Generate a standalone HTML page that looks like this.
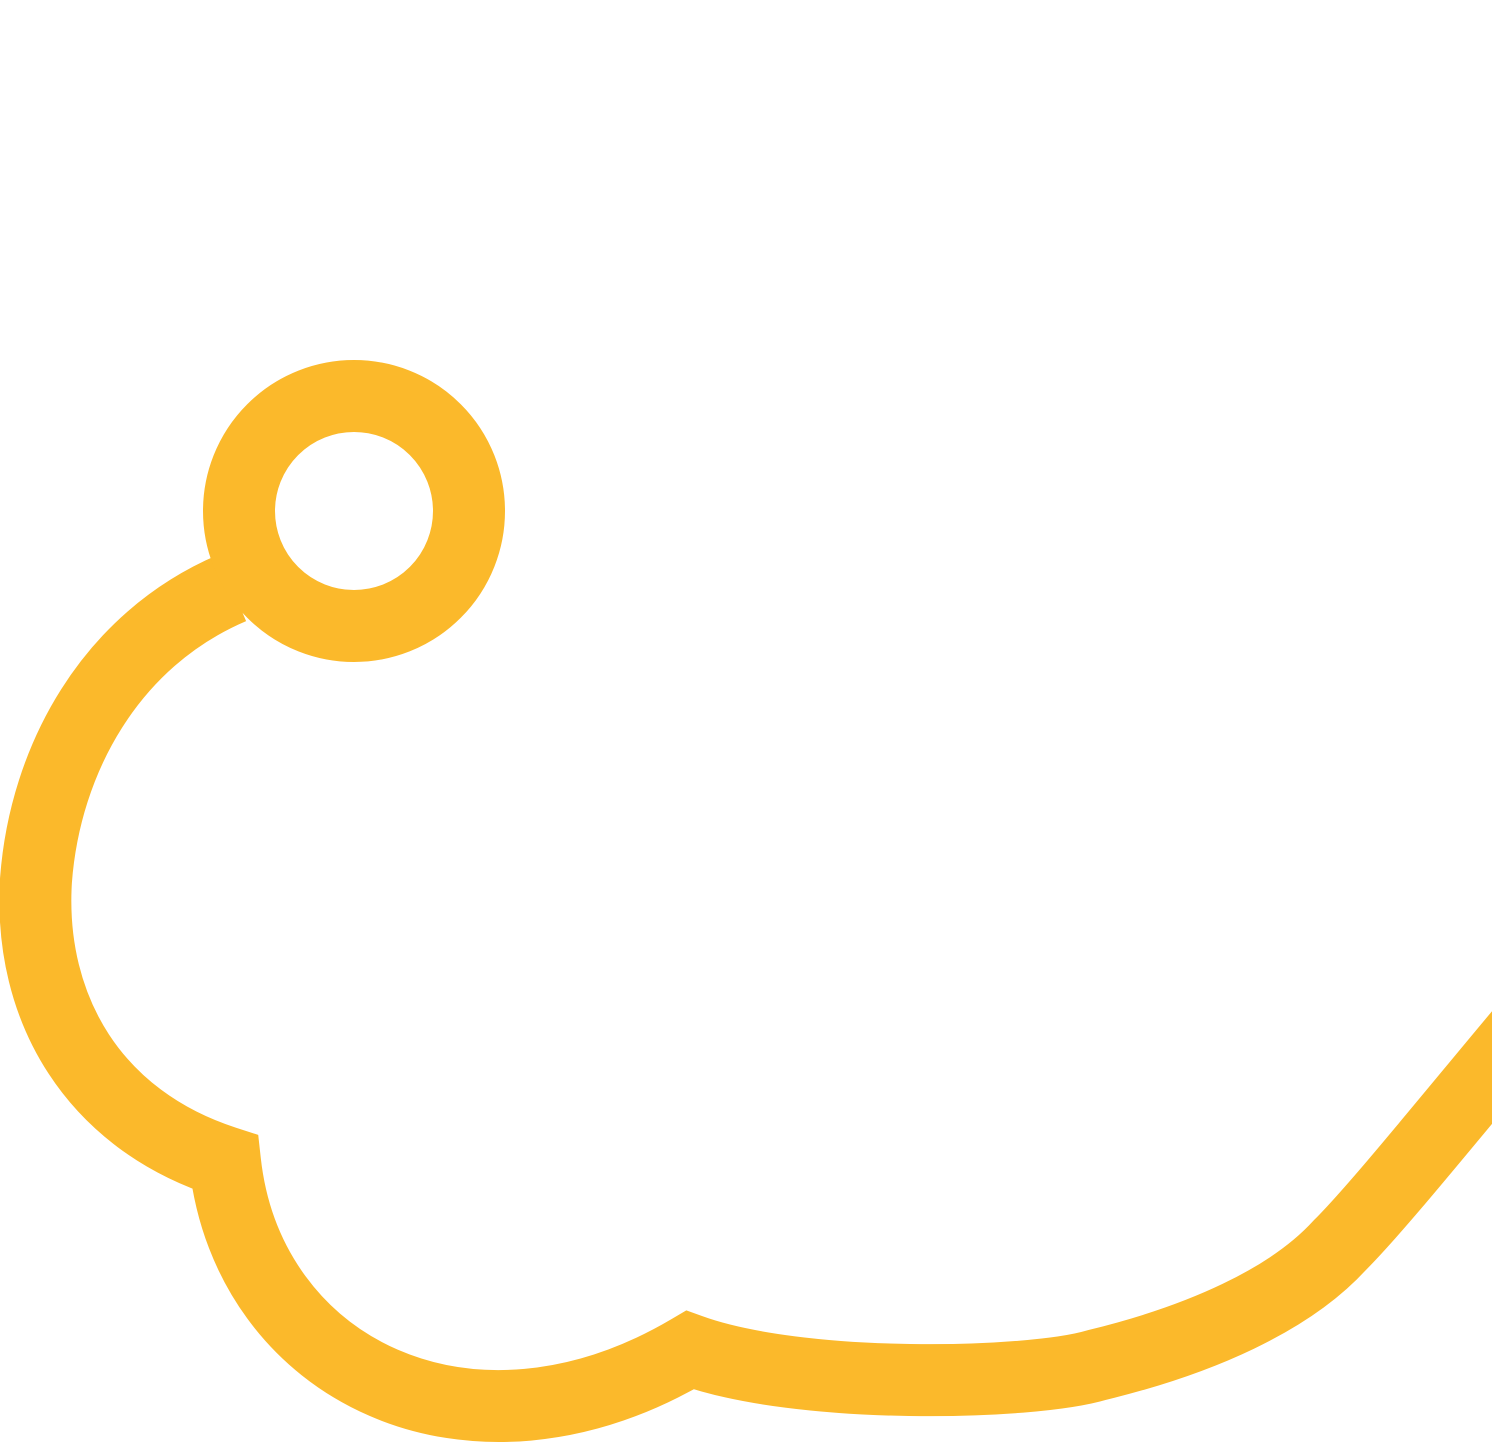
<!DOCTYPE html>
<html><head><meta charset="utf-8"><style>html,body{margin:0;padding:0;background:#fff;}svg{display:block}</style></head>
<body>
<svg width="1492" height="1452" viewBox="0 0 1492 1452" xmlns="http://www.w3.org/2000/svg">
<path d="M 232 588 C 110 640, 45 760, 36 880 C 28 1010, 95 1120, 225 1162 C 248 1370, 470 1480, 690 1350 C 800 1390, 1030 1385, 1097 1365 C 1200 1340, 1290 1300, 1340 1245 C 1380 1205, 1460 1105, 1540 1010" fill="none" stroke="#FBB92B" stroke-width="72"/>
<circle cx="354" cy="511" r="115" fill="none" stroke="#FBB92B" stroke-width="72"/>
</svg>
</body></html>
